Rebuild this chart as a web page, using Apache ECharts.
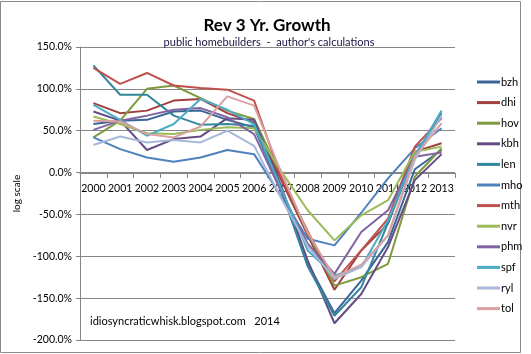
<!DOCTYPE html>
<html>
<head>
<meta charset="utf-8">
<script src="https://cdn.jsdelivr.net/npm/echarts@6/dist/echarts.min.js"></script>
<style>
  html, body { margin: 0; padding: 0; background: #fff; }
  #chart { width: 531px; height: 354px; }
</style>
</head>
<body>
<div id="chart"></div>
<script>
(function () {
    'use strict';

    // years on the x axis
    var years = ['2000', '2001', '2002', '2003', '2004', '2005', '2006',
        '2007', '2008', '2009', '2010', '2011', '2012', '2013'];

    // 3 yr revenue growth, percent
    var bzh = [58, 62, 63, 73, 74, 63, 54, -20, -108, -168, -129, -83, 4, 27];
    var dhi = [83, 71, 74, 86, 88, 71, 60, -8, -75, -140, -93, -61, 25, 35];
    var hov = [42, 62, 100, 104, 89, 74, 64, -3, -72, -135, -125, -109, -5, 29];
    var kbh = [73, 62, 27, 40, 43, 65, 63, -15, -105, -180, -145, -89, -9, 22];
    var len = [128, 93, 93, 68, 57, 58, 56, -20, -112, -171, -137, -60, 20, 71];
    var mho = [42, 28, 18, 13, 18, 27, 22, -28, -79, -87, -48, -7, 29, 53];
    var mth = [125, 106, 119, 104, 101, 99, 86, -5, -70, -130, -93, -55, 31, 65];
    var nvr = [67, 58, 47, 46, 51, 54, 53, 2, -45, -81, -51, -33, 25, 31];
    var phm = [51, 62, 68, 75, 77, 66, 46, -22, -85, -121, -71, -45, 19, 24];
    var spf = [81, 63, 44, 58, 88, 75, 58, -18, -93, -123, -113, -57, 20, 74];
    var ryl = [33, 43, 36, 39, 36, 50, 32, -30, -88, -127, -113, -75, 15, 68];
    var tol = [62, 61, 46, 42, 55, 91, 80, 1, -72, -125, -110, -75, 19, 59];

    var names = ['bzh', 'dhi', 'hov', 'kbh', 'len', 'mho', 'mth', 'nvr', 'phm', 'spf', 'ryl', 'tol'];
    var values = [bzh, dhi, hov, kbh, len, mho, mth, nvr, phm, spf, ryl, tol];
    var colors = ['#3b6497', '#a03f3c', '#7d9a3e', '#654d84', '#32879d', '#4f81bd',
        '#c0504d', '#9bbb59', '#8064a2', '#4bacc6', '#a7b9da', '#d9a19f'];

    var yTicks = [-200, -150, -100, -50, 0, 50, 100, 150];

    var font = 'Lato, "Open Sans", sans-serif';
    var grey = '#868686';

    var series = [];
    for (var i = 0; i < names.length; i++) {
        series.push({
            name: names[i],
            type: 'line',
            data: values[i],
            symbol: 'none',
            lineStyle: { width: 2, color: colors[i] },
            itemStyle: { color: colors[i] }
        });
    }

    var myChart = echarts.init(document.getElementById('chart'));

    // x axis sits on the zero line, so push it up from the bottom of the grid
    var plotH = 354 - 47 - 14;
    var zeroUp = Math.round(plotH * (0 - yTicks[0]) / (yTicks[yTicks.length - 1] - yTicks[0]));

    var option = {
        animation: false,
        backgroundColor: '#fff',
        textStyle: { fontFamily: font },
        title: [{
            text: 'Rev 3 Yr. Growth',
            left: 262, top: 12, textAlign: 'center',
            textStyle: { fontFamily: font, fontSize: 17, fontWeight: 'bold', color: '#000' }
        }, {
            text: 'public homebuilders  -  author\'s calculations',
            left: 264, top: 32, textAlign: 'center',
            textStyle: { fontFamily: font, fontSize: 11, fontWeight: 'normal', color: '#1a1440' }
        }],
        legend: {
            orient: 'vertical',
            left: 472, top: 70,
            icon: 'rect',
            itemWidth: 23, itemHeight: 3,
            itemGap: 6.6,
            data: names,
            textStyle: { fontFamily: font, fontSize: 11, color: '#000', lineHeight: 14, padding: [0, 0, 0, -4] }
        },
        grid: { left: 80, top: 47, right: 76, bottom: 14, containLabel: false },
        xAxis: {
            type: 'category',
            data: years,
            boundaryGap: true,
            position: 'bottom',
            offset: -zeroUp,
            axisLine: { onZero: false, lineStyle: { color: grey } },
            axisTick: { show: true, length: 5, lineStyle: { color: grey } },
            axisLabel: { interval: 0, color: '#000', fontSize: 10.5, margin: 10, fontFamily: font },
            splitLine: { show: false }
        },
        yAxis: {
            type: 'value',
            min: yTicks[0], max: yTicks[yTicks.length - 1], interval: 50,
            name: 'log scale',
            nameLocation: 'middle',
            nameGap: 57,
            nameTextStyle: { fontFamily: font, fontSize: 10, color: '#000' },
            axisLine: { show: true, lineStyle: { color: grey } },
            axisTick: { show: true, length: 4, lineStyle: { color: grey } },
            axisLabel: {
                color: '#000', fontSize: 10.5, margin: 8, fontFamily: font,
                formatter: function (v) { return v.toFixed(1) + '%'; }
            },
            splitLine: { lineStyle: { color: grey, width: 1 } }
        },
        graphic: [{
            type: 'rect',
            shape: { x: 0.5, y: 1.5, width: 520, height: 351 },
            style: { fill: 'none', stroke: '#8a8a8a', lineWidth: 1 },
            silent: true
        }, {
            type: 'text',
            left: 90, top: 316,
            style: { text: 'idiosyncraticwhisk.blogspot.com   2014', fill: '#000', font: '11px ' + font }
        }],
        series: series
    };

    myChart.setOption(option);
})();
</script>
</body>
</html>
